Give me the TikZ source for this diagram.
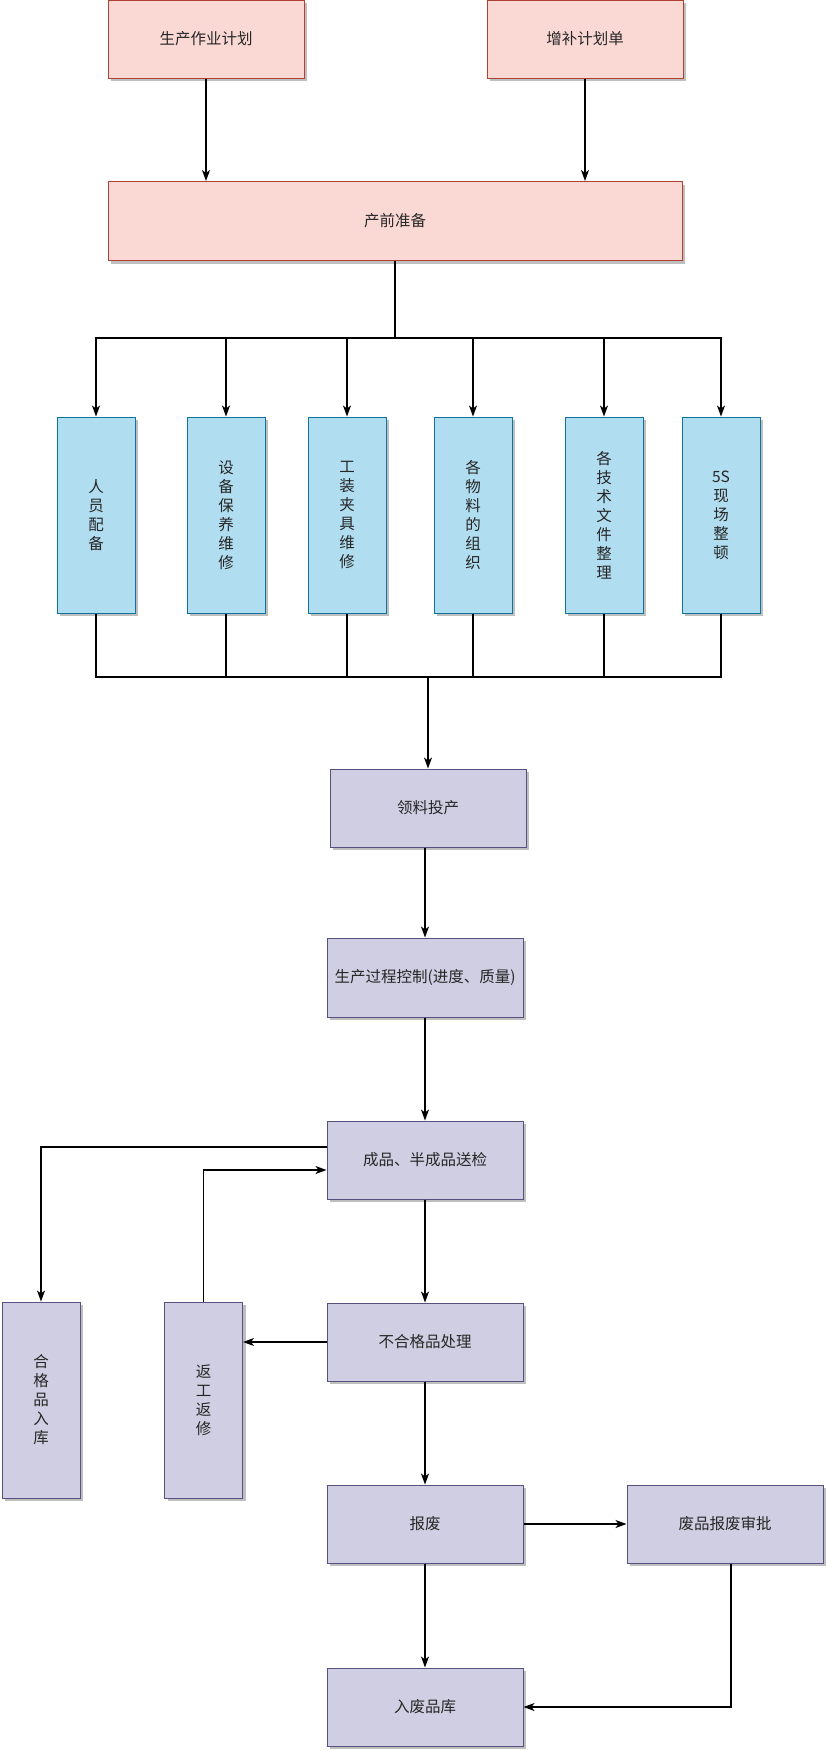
\documentclass[tikz,border=0pt]{standalone}
\usepackage{fontspec}
\newfontfamily\cjk{Noto Sans CJK SC}
\usetikzlibrary{arrows.meta,shadows}
\definecolor{pinkf}{HTML}{FAD9D5}
\definecolor{pinkd}{HTML}{AE4132}
\definecolor{bluef}{HTML}{B1DDF0}
\definecolor{blued}{HTML}{10739E}
\definecolor{purf}{HTML}{D0CEE2}
\definecolor{purd}{HTML}{56517E}
\tikzset{
 box/.style={draw, line width=1pt, inner sep=0pt, align=center, text=black!85,
   font=\cjk\fontsize{15.5}{19}\selectfont,
   drop shadow={shadow xshift=3pt, shadow yshift=-3pt, fill=black, opacity=0.25}},
 pinkbox/.style={box, fill=pinkf, draw=pinkd, minimum height=78pt},
 bluebox/.style={box, fill=bluef, draw=blued, minimum width=78pt, minimum height=196pt},
 purbox/.style={box, fill=purf, draw=purd, minimum width=196pt, minimum height=78pt},
 purvbox/.style={box, fill=purf, draw=purd, minimum width=78pt, minimum height=196pt},
 conn/.style={line width=1.2pt, black},
 arr/.style={conn, -{Stealth[length=11pt,width=8pt,inset=3pt]}},
}
\begin{document}
\begin{tikzpicture}[x=1pt,y=1pt]
\useasboundingbox (0,0) rectangle (826,-1751);
% top
\node[pinkbox, minimum width=196pt] (p1) at (206,-39) {生产作业计划};
\node[pinkbox, minimum width=196pt] (p2) at (585,-39) {增补计划单};
\node[pinkbox, minimum width=574pt, minimum height=79pt] (prep) at (395,-221) {产前准备};
% blue
\node[bluebox] (b1) at (96,-515) {人\\员\\配\\备};
\node[bluebox] (b2) at (226,-515) {设\\备\\保\\养\\维\\修};
\node[bluebox] (b3) at (347,-515) {工\\装\\夹\\具\\维\\修};
\node[bluebox] (b4) at (473,-515) {各\\物\\料\\的\\组\\织};
\node[bluebox] (b5) at (604,-515) {各\\技\\术\\文\\件\\整\\理};
\node[bluebox] (b6) at (721,-515) {5S\\现\\场\\整\\顿};
% purple
\node[purbox] (ll) at (428,-808) {领料投产};
\node[purbox, minimum height=79pt] (sc) at (425,-977.5) {生产过程控制(进度、质量)};
\node[purbox] (sj) at (425,-1160) {成品、半成品送检};
\node[purbox] (bh) at (425,-1342) {不合格品处理};
\node[purbox] (bf) at (425,-1524) {报废};
\node[purbox] (rk) at (425,-1707) {入废品库};
\node[purbox] (sp) at (725,-1524) {废品报废审批};
\node[purvbox] (hg) at (41,-1400) {合\\格\\品\\入\\库};
\node[purvbox] (fg) at (203.5,-1400) {返\\工\\返\\修};
% connectors
\coordinate (bus1) at (395,-338);
\coordinate (bus2) at (428,-677);
\draw[arr] (p1.south) -- (p1.south |- prep.north);
\draw[arr] (p2.south) -- (p2.south |- prep.north);
\draw[conn] (prep.south) -- (bus1);
\foreach \b in {b1,b2,b3,b4,b5,b6}{
  \draw[arr] (bus1) -| (\b.north);
  \draw[conn] (\b.south) |- (bus2);
}
\draw[arr] (bus2) -- (ll.north);
\draw[arr] (sc.north |- ll.south) -- (sc.north);
\draw[arr] (sc.south) -- (sj.north);
\draw[arr] ([yshift=13pt]sj.west) -| (hg.north);
\draw[arr] (fg.north) |- ([yshift=-10pt]sj.west);
\draw[arr] (sj.south) -- (bh.north);
\draw[arr] (bh.west) -- (bh.west -| fg.east);
\draw[arr] (bh.south) -- (bf.north);
\draw[arr] (bf.east) -- (sp.west);
\draw[arr] (bf.south) -- (rk.north);
\draw[arr] ([xshift=6pt]sp.south) |- (rk.east);
\end{tikzpicture}
\end{document}
